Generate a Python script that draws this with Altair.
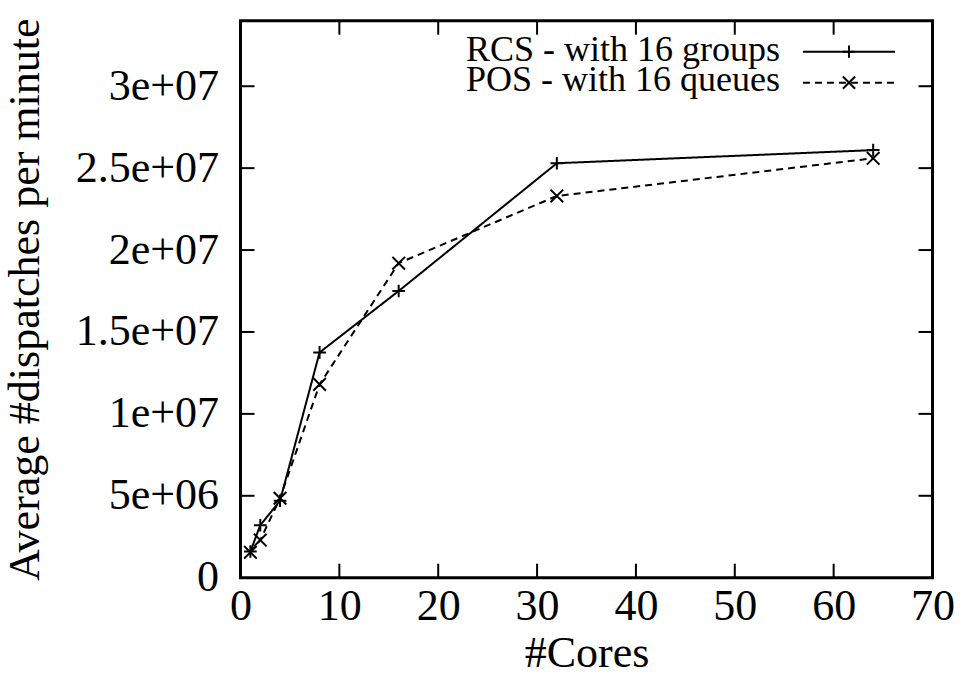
import altair as alt
import pandas as pd

# ---- data ----
cores = [1, 2, 4, 8, 16, 32, 64]
rcs_values = [1.6e6, 3.2e6, 4.7e6, 1.375e7, 1.75e7, 2.53e7, 2.61e7]
pos_values = [1.55e6, 2.3e6, 4.85e6, 1.18e7, 1.92e7, 2.33e7, 2.56e7]
series_names = ["RCS - with 16 groups", "POS - with 16 queues"]

x_tick_values = [0, 10, 20, 30, 40, 50, 60, 70]
x_inner_ticks = [10, 20, 30, 40, 50, 60]
y_tick_values = [0, 5e6, 1e7, 1.5e7, 2e7, 2.5e7, 3e7]
y_tick_labels = ["0", "5e+06", "1e+07", "1.5e+07", "2e+07", "2.5e+07", "3e+07"]
y_inner_ticks = [5e6, 1e7, 1.5e7, 2e7, 2.5e7, 3e7]

x_title = "#Cores"
y_title = "Average #dispatches per minute"

# ---- layout constants ----
W, H = 692, 557
FONT = "Liberation Serif"
TICK = 14
PLUS = "M-1,0L1,0M0,-1L0,1"
CROSS = "M-1,-1L1,1M-1,1L1,-1"

df = pd.DataFrame({
    "cores": cores + cores,
    "value": rcs_values + pos_values,
    "series": [series_names[0]] * len(cores) + [series_names[1]] * len(cores),
})

xscale = alt.Scale(domain=[0, 70], nice=False, zero=False)
yscale = alt.Scale(domain=[0, 3.4e7], nice=False)

label_arr = "[" + ",".join("'" + s + "'" for s in y_tick_labels) + "]"

x_axis = alt.Axis(values=x_tick_values, title=x_title, ticks=False, tickSize=0,
                  domain=False, grid=False, labelFlush=False, labelOverlap=False,
                  labelPadding=7, titleY=89, titleBaseline="alphabetic", format="d")
y_axis = alt.Axis(values=y_tick_values, title=y_title, ticks=False, tickSize=0,
                  domain=False, grid=False, labelFlush=False, labelOverlap=False,
                  labelPadding=22,
                  labelExpr=label_arr + "[round(datum.value/5000000)]",
                  titleX=-202, titleY=H / 2, titleBaseline="alphabetic",
                  titleAngle=270)

dash_scale = alt.Scale(domain=series_names, range=[[1, 0], [7, 5]])
shape_scale = alt.Scale(domain=series_names, range=[PLUS, CROSS])

lines = alt.Chart(df).mark_line(color="black", strokeWidth=2).encode(
    x=alt.X("cores:Q", scale=xscale, axis=x_axis),
    y=alt.Y("value:Q", scale=yscale, axis=y_axis),
    strokeDash=alt.StrokeDash("series:N", scale=dash_scale, legend=None),
    detail="series:N",
)

points = alt.Chart(df).mark_point(filled=False, color="black", strokeWidth=2,
                                  size=160, opacity=1).encode(
    x=alt.X("cores:Q", scale=xscale, axis=x_axis),
    y=alt.Y("value:Q", scale=yscale, axis=y_axis),
    shape=alt.Shape("series:N", scale=shape_scale, legend=None),
)

xt = pd.DataFrame({"t": x_inner_ticks})
yt = pd.DataFrame({"t": y_inner_ticks})

tick_bottom = alt.Chart(xt).mark_rule(color="black", strokeWidth=2).encode(
    x=alt.X("t:Q", scale=xscale, axis=x_axis), y=alt.value(H), y2=alt.value(H - TICK))
tick_top = alt.Chart(xt).mark_rule(color="black", strokeWidth=2).encode(
    x=alt.X("t:Q", scale=xscale, axis=x_axis), y=alt.value(0), y2=alt.value(TICK))
tick_left = alt.Chart(yt).mark_rule(color="black", strokeWidth=2).encode(
    y=alt.Y("t:Q", scale=yscale, axis=y_axis), x=alt.value(0), x2=alt.value(TICK))
tick_right = alt.Chart(yt).mark_rule(color="black", strokeWidth=2).encode(
    y=alt.Y("t:Q", scale=yscale, axis=y_axis), x=alt.value(W), x2=alt.value(W - TICK))

one = pd.DataFrame({"a": [0]})
legend_layers = []
leg_rows = [(39.8, 31.0, [1, 0], PLUS), (70.3, 62.0, [7, 5], CROSS)]
for name, (tb, ly, dash, shp) in zip(series_names, leg_rows):
    legend_layers.append(
        alt.Chart(one).mark_text(font=FONT, fontSize=36, align="right",
                                 baseline="alphabetic", color="black").encode(
            x=alt.value(539.5), y=alt.value(tb), text=alt.value(name)))
    legend_layers.append(
        alt.Chart(one).mark_rule(color="black", strokeWidth=2, strokeDash=dash).encode(
            x=alt.value(562.5), x2=alt.value(654.5), y=alt.value(ly)))
    legend_layers.append(
        alt.Chart(one).mark_point(filled=False, color="black", strokeWidth=2,
                                  size=150, opacity=1, shape=shp).encode(
            x=alt.value(608.5), y=alt.value(ly)))

chart = alt.layer(
    lines, points, tick_bottom, tick_top, tick_left, tick_right, *legend_layers
).properties(
    width=W, height=H,
    autosize=alt.AutoSizeParams(type="none"),
    padding={"left": 240.5, "top": 20.7, "right": 34.5, "bottom": 97.3},
    background="white",
).configure_view(
    stroke="black", strokeWidth=3
).configure_axis(
    labelFont=FONT, labelFontSize=44, labelColor="black",
    titleFont=FONT, titleFontSize=44, titleFontWeight="normal", titleColor="black",
)

chart.save("out.html", embed_options={"renderer": "svg", "actions": False})
